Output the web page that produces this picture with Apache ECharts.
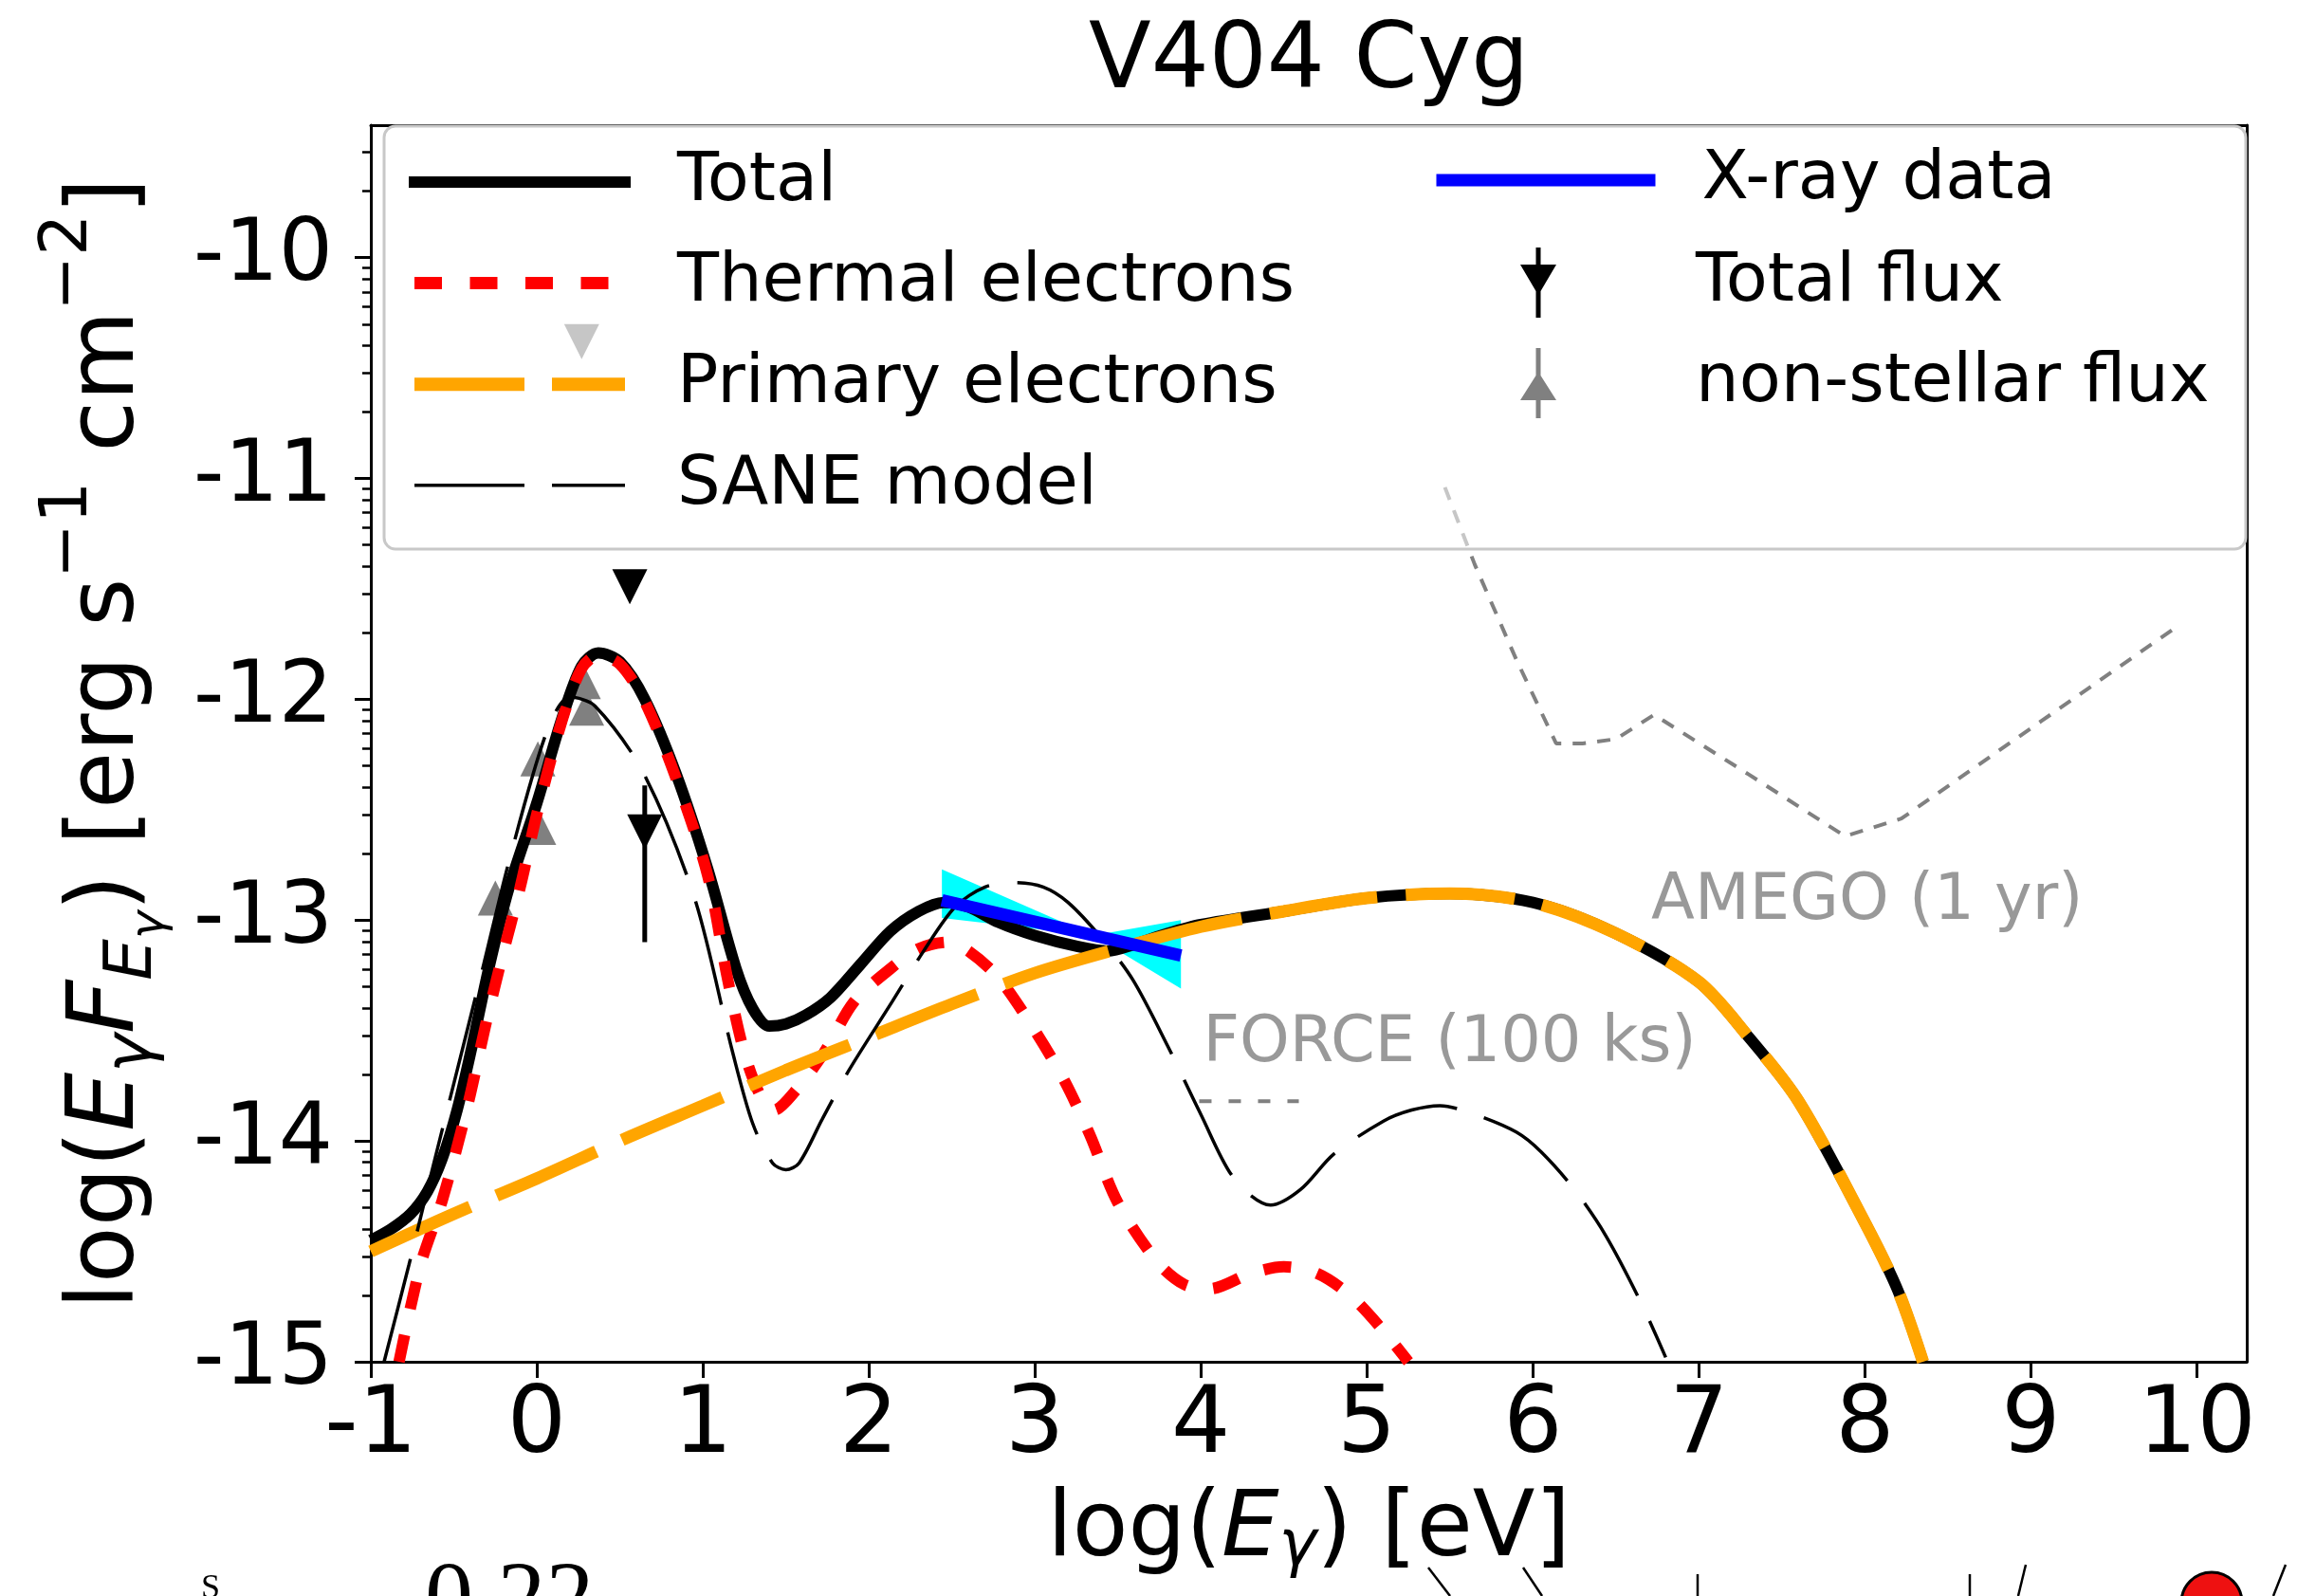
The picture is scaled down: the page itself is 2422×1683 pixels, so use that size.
<!DOCTYPE html>
<html><head><meta charset="utf-8">
<script src="https://cdn.jsdelivr.net/npm/echarts@6/dist/echarts.min.js"></script>
<style>html,body{margin:0;padding:0;background:#fff}#c{width:2422px;height:1683px}</style>
</head><body><div id="c"></div>
<script>
// ---------- data ----------
const xTicks = [-1, 0, 1, 2, 3, 4, 5, 6, 7, 8, 9, 10];
const xTickLabels = ['-1', '0', '1', '2', '3', '4', '5', '6', '7', '8', '9', '10'];
const yTicks = [-15, -14, -13, -12, -11, -10];
const yTickLabels = ['-15', '-14', '-13', '-12', '-11', '-10'];

const totalX = [-1, -0.88, -0.76, -0.66, -0.57, -0.48, -0.39, -0.29, -0.17, 0, 0.15, 0.27, 0.37, 0.5, 0.65, 0.84, 1.03, 1.2, 1.3, 1.4, 1.5, 1.62, 1.77, 1.95, 2.13, 2.3, 2.45, 2.6, 2.78, 3.0, 3.26, 3.44, 3.6, 3.8, 4.0, 4.5, 5.0, 5.5, 6.0, 6.5, 7.0, 7.3, 7.6, 8.0, 8.2, 8.35];
const totalY = [-14.45, -14.40, -14.33, -14.23, -14.08, -13.86, -13.57, -13.22, -12.86, -12.47, -12.09, -11.85, -11.79, -11.83, -12.0, -12.34, -12.77, -13.22, -13.40, -13.48, -13.47, -13.43, -13.35, -13.20, -13.05, -12.96, -12.92, -12.94, -13.01, -13.07, -13.12, -13.14, -13.11, -13.06, -13.02, -12.96, -12.90, -12.88, -12.92, -13.06, -13.28, -13.53, -13.82, -14.37, -14.68, -15.0];

const thermX = [-0.83, -0.7, -0.57, -0.42, -0.31, -0.22, -0.1, 0, 0.15, 0.27, 0.37, 0.5, 0.65, 0.84, 1.03, 1.15, 1.25, 1.35, 1.43, 1.55, 1.73, 1.91, 2.13, 2.3, 2.48, 2.6, 2.78, 3.0, 3.18, 3.33, 3.5, 3.74, 3.9, 4.05, 4.3, 4.5, 4.7, 4.9, 5.1, 5.25];
const thermY = [-15.0, -14.56, -14.27, -13.85, -13.48, -13.20, -12.85, -12.52, -12.10, -11.86, -11.80, -11.84, -12.01, -12.36, -12.80, -13.27, -13.60, -13.80, -13.86, -13.78, -13.60, -13.37, -13.22, -13.13, -13.10, -13.14, -13.26, -13.50, -13.73, -13.97, -14.28, -14.55, -14.65, -14.67, -14.60, -14.57, -14.60, -14.70, -14.86, -15.0];

const primX = [-1, -0.5, 0, 0.5, 1, 1.5, 2, 2.5, 3, 3.5, 4, 4.5, 5, 5.5, 6, 6.5, 7, 7.3, 7.6, 8.0, 8.2, 8.35];
const primY = [-14.50, -14.33, -14.17, -14.0, -13.84, -13.68, -13.53, -13.38, -13.24, -13.13, -13.03, -12.96, -12.90, -12.88, -12.92, -13.06, -13.28, -13.53, -13.82, -14.37, -14.68, -15.0];

const saneX = [-0.92, -0.77, -0.63, -0.5, -0.32, -0.166, 0.063, 0.2, 0.35, 0.64, 0.95, 1.18, 1.3, 1.42, 1.5, 1.58, 1.72, 1.88, 2.14, 2.33, 2.52, 2.7, 2.88, 3.05, 3.2, 3.4, 3.59, 3.8, 4.0, 4.2, 4.42, 4.6, 4.8, 5.1, 5.27, 5.44, 5.65, 5.9, 6.05, 6.25, 6.44, 6.65, 6.8];
const saneY = [-15.0, -14.56, -14.13, -13.74, -13.20, -12.73, -12.14, -11.99, -12.03, -12.33, -12.90, -13.60, -13.92, -14.10, -14.13, -14.10, -13.90, -13.68, -13.37, -13.14, -12.94, -12.85, -12.83, -12.85, -12.92, -13.08, -13.27, -13.57, -13.88, -14.17, -14.29, -14.22, -14.06, -13.91, -13.86, -13.84, -13.88, -13.96, -14.05, -14.22, -14.43, -14.73, -14.98];

const xrayX = [2.44, 3.88];
const xrayY = [-12.91, -13.16];
const bowX = [2.44, 3.35, 3.88, 3.88, 3.35, 2.44];
const bowY = [-12.77, -13.07, -13.00, -13.31, -13.07, -12.99];

const amegoX = [5.47, 5.65, 5.9, 6.14, 6.3, 6.5, 6.73, 7.3, 7.88, 8.22, 9.06, 9.9];
const amegoY = [-11.04, -11.39, -11.82, -12.20, -12.20, -12.18, -12.07, -12.34, -12.62, -12.54, -12.10, -11.66];
const forceX = [3.99, 4.59];
const forceY = [-13.82, -13.82];

const tfX = [0.56, 0.65];
const tfY = [-11.49, -12.60];
const tfErrX = [0.65];
const tfErrLo = [-13.10];
const tfErrHi = [-12.39];

const nsX = [-0.25, 0.006, 0.011, 0.28, 0.30, 0.27];
const nsY = [-12.90, -12.27, -12.58, -11.92, -12.04, -10.38];
const nsDir = ['up', 'up', 'up', 'up', 'up', 'down'];

const annX = [6.71, 4.01];
const annY = [-12.92, -13.565];
const annText = ['AMEGO (1 yr)', 'FORCE (100 ks)'];

// minor ticks of the (log-style) y axis
const yMinor = [];
for (let d = -15; d <= -10; d++) for (let k = 2; k <= 9; k++) { const v = d + Math.log10(k); if (v < -9.4) yMinor.push(v); }

// ---------- chart ----------
const FONT = '"DejaVu Sans", "Noto Sans", sans-serif';
const zip = (xs, ys) => xs.map((x, i) => [x, ys[i]]);
const DOWN = 'path://M0,0L2,0L1,2Z';
const UP = 'path://M1,0L2,2L0,2Z';
const lab = (ticks, labels) => v => { const i = ticks.findIndex(t => Math.abs(t - v) < 1e-6); return i >= 0 ? labels[i] : ''; };

const chart = echarts.init(document.getElementById('c'), null, {renderer: 'canvas'});
const axisLineStyle = {color: '#000', width: 3};

const option = {
  animation: false,
  backgroundColor: '#fff',
  title: {text: 'V404 Cyg', left: 1148, top: 19, padding: 0,
    textStyle: {fontFamily: FONT, fontSize: 96, fontWeight: 'normal', color: '#000', lineHeight: 96}},
  grid: {left: 391, right: 53, top: 132, bottom: 247, containLabel: false, outerBoundsMode: 'none'},
  xAxis: [
    {type: 'value', min: -1, max: 10.3, position: 'bottom',
     axisLine: {show: true, onZero: false, lineStyle: axisLineStyle},
     axisTick: {show: true, customValues: xTicks, length: 17, lineStyle: {color: '#000', width: 3}},
     axisLabel: {show: true, customValues: xTicks, formatter: lab(xTicks, xTickLabels), fontFamily: FONT, fontSize: 98, lineHeight: 98, color: '#000', margin: 21},
     splitLine: {show: false},
     name: '{t|log(}{it|E}{sub|γ}{t|) [eV]}', nameLocation: 'middle', nameGap: 122, nameMoveOverlap: false,
     nameTextStyle: {color: '#000', fontFamily: FONT, rich: {
       t: {fontFamily: FONT, fontSize: 96, lineHeight: 114, color: '#000'},
       it: {fontFamily: FONT, fontSize: 96, fontStyle: 'italic', lineHeight: 114, color: '#000'},
       sub: {fontFamily: FONT, fontSize: 67, fontStyle: 'italic', lineHeight: 114, padding: [36, 0, 0, 0], color: '#000'}
     }}},
    {type: 'value', min: -1, max: 10.3, position: 'top',
     axisLine: {show: true, onZero: false, lineStyle: axisLineStyle},
     axisTick: {show: false}, axisLabel: {show: false}, splitLine: {show: false}}
  ],
  yAxis: [
    {type: 'value', min: -15, max: -9.4, position: 'left',
     axisLine: {show: true, onZero: false, lineStyle: axisLineStyle},
     axisTick: {show: true, customValues: yTicks, length: 17, lineStyle: {color: '#000', width: 3}},
     axisLabel: {show: true, customValues: yTicks, formatter: lab(yTicks, yTickLabels), fontFamily: FONT, fontSize: 90, color: '#000', margin: 40},
     splitLine: {show: false},
     name: '{t|log(}{it|E}{sub|γ}{it|F}{sub|E}{ss|γ}{t|) [erg s}{sup|−1}{t| cm}{sup|−2}{t|]}',
     nameLocation: 'middle', nameGap: 219, nameRotate: 90, nameMoveOverlap: false,
     nameTextStyle: {color: '#000', fontFamily: FONT, rich: {
       t: {fontFamily: FONT, fontSize: 98, lineHeight: 114, color: '#000'},
       it: {fontFamily: FONT, fontSize: 98, fontStyle: 'italic', lineHeight: 114, color: '#000'},
       sub: {fontFamily: FONT, fontSize: 69, fontStyle: 'italic', lineHeight: 114, padding: [52, 0, 0, 0], color: '#000'},
       ss: {fontFamily: FONT, fontSize: 50, fontStyle: 'italic', lineHeight: 114, padding: [88, 0, 0, 0], color: '#000'},
       sup: {fontFamily: FONT, fontSize: 69, lineHeight: 114, padding: [0, 0, 84, 0], color: '#000'}
     }}},
    {type: 'value', min: -15, max: -9.4, position: 'left',
     axisLine: {show: false, onZero: false}, axisLabel: {show: false}, splitLine: {show: false},
     axisTick: {show: true, customValues: yMinor, length: 9, lineStyle: {color: '#000', width: 2.5}}},
    {type: 'value', min: -15, max: -9.4, position: 'right',
     axisLine: {show: true, onZero: false, lineStyle: axisLineStyle},
     axisTick: {show: false}, axisLabel: {show: false}, splitLine: {show: false}}
  ],
  legend: [
    {orient: 'vertical', left: 430, top: 152, padding: 0, itemGap: 26.6, itemWidth: 222, itemHeight: 13,
     selectedMode: false, z: 10,
     textStyle: {fontFamily: FONT, fontSize: 72, color: '#000', lineHeight: 80, padding: [0, 0, 0, 50]},
     data: [
       {name: 'Total', itemStyle: {opacity: 0}, lineStyle: {color: '#000', width: 12, type: 'solid', cap: 'square'}},
       {name: 'Thermal electrons', itemStyle: {opacity: 0}, lineStyle: {color: '#ff0000', width: 13, type: [29, 29.5], cap: 'butt'}},
       {name: 'Primary electrons', itemStyle: {opacity: 0}, lineStyle: {color: '#ffa500', width: 14, type: [116, 29], cap: 'butt'}},
       {name: 'SANE model', itemStyle: {opacity: 0}, lineStyle: {color: '#000', width: 3.5, type: [116, 29], cap: 'butt'}}
     ]},
    {orient: 'vertical', left: 1508, top: 150, padding: 0, itemWidth: 231, itemHeight: 13, selectedMode: false, z: 10,
     textStyle: {fontFamily: FONT, fontSize: 72, color: '#000', lineHeight: 80, padding: [0, 0, 0, 44]},
     data: [{name: 'X-ray data', itemStyle: {opacity: 0}, lineStyle: {color: '#0000ff', width: 13, type: 'solid', cap: 'butt'}}]},
    {orient: 'vertical', left: 1603, top: 258, padding: 0, itemGap: 26, itemWidth: 38, itemHeight: 74, selectedMode: false, z: 10,
     textStyle: {fontFamily: FONT, fontSize: 72, color: '#000', lineHeight: 80, padding: [0, 0, 0, 142]},
     data: [
       {name: 'Total flux', icon: 'path://M16.5,0L21.5,0L21.5,18L38,18L21.5,46L21.5,74L16.5,74L16.5,46L0,18L16.5,18Z'},
       {name: 'non-stellar flux', icon: 'path://M16.5,0L21.5,0L21.5,29L38,55L21.5,55L21.5,74L16.5,74L16.5,55L0,55L16.5,29Z'}
     ]}
  ],
  graphic: [
    {type: 'rect', z: 5, silent: true, shape: {x: 405, y: 133, width: 1963, height: 446, r: 12},
     style: {fill: 'rgba(255,255,255,0.55)', stroke: '#c8c8c8', lineWidth: 3}},
    {type: 'text', x: 448, y: 1690, silent: true, style: {text: '0.22', fontFamily: '"Liberation Serif", serif', fontSize: 102, fill: '#000', align: 'left', verticalAlign: 'middle'}},
    {type: 'text', x: 212, y: 1676, silent: true, style: {text: 'S', fontFamily: '"Liberation Serif", serif', fontSize: 36, fill: '#000', align: 'left', verticalAlign: 'middle'}},
    {type: 'line', silent: true, shape: {x1: 1506, y1: 1653, x2: 1529, y2: 1683}, style: {stroke: '#000', lineWidth: 2.5}},
    {type: 'line', silent: true, shape: {x1: 1606, y1: 1653, x2: 1626, y2: 1683}, style: {stroke: '#000', lineWidth: 2.5}},
    {type: 'line', silent: true, shape: {x1: 1790, y1: 1660, x2: 1790, y2: 1683}, style: {stroke: '#000', lineWidth: 2.5}},
    {type: 'line', silent: true, shape: {x1: 2077, y1: 1660, x2: 2077, y2: 1683}, style: {stroke: '#000', lineWidth: 2.5}},
    {type: 'line', silent: true, shape: {x1: 2136, y1: 1650, x2: 2128, y2: 1683}, style: {stroke: '#000', lineWidth: 2.5}},
    {type: 'line', silent: true, shape: {x1: 2410, y1: 1650, x2: 2397, y2: 1683}, style: {stroke: '#000', lineWidth: 2.5}},
    {type: 'circle', silent: true, shape: {cx: 2332, cy: 1690, r: 32}, style: {fill: '#ee1111', stroke: '#000', lineWidth: 3}}
  ],
  series: [
    {name: 'Total', type: 'line', data: zip(totalX, totalY), smooth: 0.3, symbol: 'none', silent: true,
     itemStyle: {color: '#000'}, lineStyle: {color: '#000', width: 12}},
    {name: 'Thermal electrons', type: 'line', data: zip(thermX, thermY), smooth: 0.3, symbol: 'none', silent: true,
     itemStyle: {color: '#ff0000'}, lineStyle: {color: '#ff0000', width: 12, type: [29, 28], cap: 'butt'}},
    {name: 'Primary electrons', type: 'line', data: zip(primX, primY), smooth: 0.3, symbol: 'none', silent: true,
     itemStyle: {color: '#ffa500'}, lineStyle: {color: '#ffa500', width: 13, type: [115, 30], cap: 'butt'}},
    {name: 'SANE model', type: 'line', data: zip(saneX, saneY), smooth: 0.3, symbol: 'none', silent: true,
     itemStyle: {color: '#000'}, lineStyle: {color: '#000', width: 3.5, type: [112, 30], cap: 'butt'}},
    {name: 'X-ray band', type: 'custom', silent: true, data: [[bowX[0], bowY[0]]],
     renderItem: (params, api) => ({type: 'polygon', shape: {points: bowX.map((x, i) => api.coord([x, bowY[i]]))}, style: {fill: '#00ffff'}})},
    {name: 'X-ray data', type: 'line', data: zip(xrayX, xrayY), symbol: 'none', silent: true,
     itemStyle: {color: '#0000ff'}, lineStyle: {color: '#0000ff', width: 13}},
    {name: 'AMEGO', type: 'line', data: zip(amegoX, amegoY), symbol: 'none', silent: true,
     itemStyle: {color: '#808080'}, lineStyle: {color: '#808080', width: 4, type: [14, 12]}},
    {name: 'FORCE', type: 'line', data: zip(forceX, forceY), symbol: 'none', silent: true,
     itemStyle: {color: '#808080'}, lineStyle: {color: '#808080', width: 4, type: [13, 18]}},
    {name: 'Total flux err', type: 'custom', silent: true, data: tfErrX.map((x, i) => [x, tfErrLo[i], tfErrHi[i]]),
     encode: {x: 0, y: [1, 2]},
     renderItem: (params, api) => {
       const a = api.coord([api.value(0), api.value(1)]), b = api.coord([api.value(0), api.value(2)]);
       return {type: 'line', shape: {x1: a[0], y1: a[1], x2: b[0], y2: b[1]}, style: {stroke: '#000', lineWidth: 5}};
     }},
    {name: 'Total flux', type: 'scatter', data: zip(tfX, tfY), symbol: DOWN, symbolSize: 37, silent: true,
     itemStyle: {color: '#000', opacity: 1}},
    {name: 'non-stellar flux', type: 'scatter', silent: true, symbolSize: 37, itemStyle: {color: '#808080', opacity: 1},
     data: nsX.map((x, i) => ({value: [x, nsY[i]], symbol: nsDir[i] === 'up' ? UP : DOWN}))},
    {name: 'annotations', type: 'scatter', silent: true, symbolSize: 1, itemStyle: {color: 'rgba(0,0,0,0)'},
     data: annX.map((x, i) => ({value: [x, annY[i]], name: annText[i]})),
     label: {show: true, position: 'right', distance: 0, formatter: p => p.name, fontFamily: FONT, fontSize: 67, color: '#7f7f7f'}}
  ]
};
chart.setOption(option);
</script>
</body></html>
